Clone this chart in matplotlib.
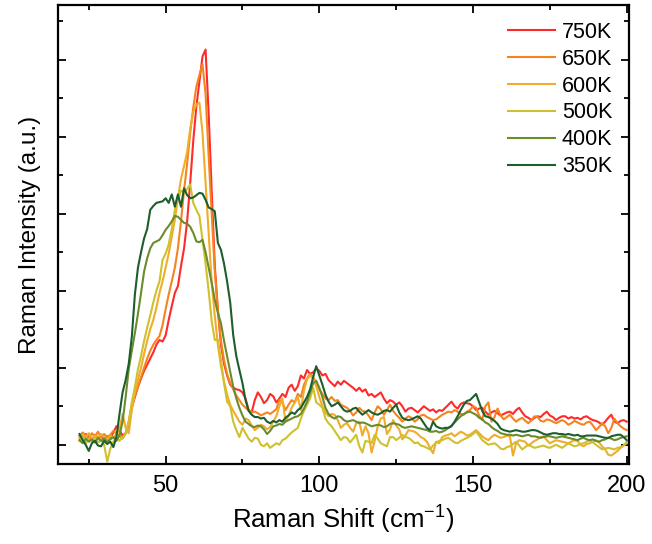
import numpy as np
import matplotlib
matplotlib.use("Agg")
import matplotlib.pyplot as plt
from matplotlib.ticker import MultipleLocator, NullFormatter

plt.rcParams['font.family'] = ['Liberation Sans', 'DejaVu Sans']
plt.rcParams['mathtext.default'] = 'regular'

# Raman shift grid (cm-1), one point per wavenumber
shift = np.arange(22, 201)

labels = ['750K', '650K', '600K', '500K', '400K', '350K']
colors = ['#ff2a2a', '#f5841f', '#f0ac2a', '#cfc12e', '#6a8c2c', '#1c5e2c']

i_750 = [
    0.12, 0.08, 0.14, 0.10, 0.06, 0.13, 0.09, 0.12,
    0.07, 0.11, 0.09, 0.16, 0.24, 0.19, 0.12, 0.15, 0.25, 0.48,
    0.62, 0.75, 0.86, 0.96, 1.04, 1.12, 1.20, 1.30, 1.36, 1.34,
    1.42, 1.62, 1.80, 1.97, 2.06, 2.32, 2.55, 2.90, 3.40, 3.95,
    4.39, 4.72, 5.04, 5.13, 4.30, 3.28, 2.32, 1.75, 1.30, 1.05,
    0.90, 0.78, 0.74, 0.72, 0.71, 0.68, 0.60, 0.45, 0.42, 0.58,
    0.68, 0.62, 0.54, 0.58, 0.66, 0.63, 0.55, 0.60, 0.66, 0.62,
    0.74, 0.78, 0.70, 0.76, 0.90, 0.86, 0.97, 0.92, 0.94, 0.99,
    0.96, 0.90, 0.92, 0.84, 0.80, 0.76, 0.82, 0.78, 0.83, 0.80,
    0.77, 0.74, 0.70, 0.74, 0.69, 0.72, 0.64, 0.66, 0.62, 0.65,
    0.68, 0.60, 0.54, 0.58, 0.56, 0.52, 0.55, 0.50, 0.43, 0.47,
    0.48, 0.45, 0.42, 0.46, 0.50, 0.47, 0.44, 0.46, 0.42, 0.45,
    0.44, 0.48, 0.52, 0.56, 0.50, 0.47, 0.53, 0.55, 0.54, 0.53,
    0.50, 0.45, 0.47, 0.48, 0.43, 0.39, 0.42, 0.44, 0.41, 0.38,
    0.40, 0.42, 0.43, 0.40, 0.45, 0.48, 0.42, 0.37, 0.35, 0.32,
    0.35, 0.37, 0.36, 0.40, 0.43, 0.38, 0.36, 0.32, 0.35, 0.37,
    0.37, 0.34, 0.36, 0.34, 0.35, 0.33, 0.36, 0.37, 0.34, 0.32,
    0.31, 0.29, 0.26, 0.30, 0.35, 0.39, 0.30, 0.28, 0.31, 0.32,
    0.30,
]

i_650 = [
    0.10, 0.16, 0.12, 0.08, 0.15, 0.11, 0.17, 0.09,
    0.14, 0.10, 0.13, 0.18, 0.15, 0.12, 0.08, 0.15, 0.30, 0.52,
    0.64, 0.76, 0.88, 1.00, 1.12, 1.22, 1.30, 1.36, 1.41, 1.55,
    1.76, 1.95, 2.12, 2.30, 2.55, 2.90, 3.30, 3.65, 4.05, 4.38,
    4.65, 4.80, 4.94, 4.55, 3.75, 3.00, 2.25, 1.75, 1.35, 1.10,
    0.92, 0.80, 0.72, 0.64, 0.58, 0.52, 0.48, 0.45, 0.42, 0.43,
    0.41, 0.38, 0.40, 0.42, 0.40, 0.43, 0.46, 0.58, 0.55, 0.45,
    0.52, 0.58, 0.55, 0.66, 0.62, 0.78, 0.86, 0.92, 0.88, 0.80,
    0.72, 0.66, 0.60, 0.58, 0.62, 0.57, 0.58, 0.52, 0.50, 0.48,
    0.44, 0.38, 0.42, 0.48, 0.44, 0.43, 0.38, 0.32, 0.42, 0.50,
    0.46, 0.39, 0.45, 0.52, 0.44, 0.39, 0.35, 0.30, 0.34, 0.37,
    0.35, 0.30, 0.33, 0.38, 0.39, 0.36, 0.34, 0.32, 0.33, 0.36,
    0.39, 0.41, 0.43, 0.42, 0.45, 0.43, 0.40, 0.39, 0.43, 0.45,
    0.50, 0.48, 0.38, 0.32, 0.50, 0.55, 0.30, 0.36, 0.47, 0.38,
    0.33, 0.36, 0.39, 0.34, 0.30, 0.33, 0.35, 0.31, 0.28, 0.32,
    0.37, 0.36, 0.31, 0.30, 0.33, 0.32, 0.30, 0.28, 0.30, 0.32,
    0.30, 0.26, 0.28, 0.31, 0.29, 0.27, 0.26, 0.29, 0.30, 0.25,
    0.19, 0.23, 0.28, 0.24, 0.15, 0.22, 0.34, 0.28, 0.24, 0.21,
    0.19,
]

i_600 = [
    0.08, 0.13, 0.10, 0.15, 0.07, 0.12, 0.09, 0.14,
    0.10, 0.06, 0.12, 0.09, 0.14, 0.20, 0.40, 0.22, 0.15, 0.45,
    0.68, 0.85, 1.00, 1.18, 1.35, 1.50, 1.62, 1.78, 1.97, 2.12,
    2.30, 2.48, 2.70, 2.92, 3.20, 3.45, 3.62, 3.80, 4.10, 4.32,
    4.42, 4.44, 4.05, 3.40, 2.75, 2.10, 1.67, 1.30, 1.02, 0.82,
    0.65, 0.52, 0.44, 0.37, 0.30, 0.26, 0.34, 0.32, 0.25, 0.19,
    0.22, 0.26, 0.24, 0.20, 0.23, 0.30, 0.37, 0.50, 0.60, 0.30,
    0.38, 0.48, 0.55, 0.62, 0.45, 0.70, 0.85, 0.90, 0.86, 0.76,
    0.62, 0.50, 0.42, 0.37, 0.40, 0.39, 0.32, 0.22, 0.26, 0.28,
    0.22, 0.17, 0.28, 0.30, 0.12, 0.24, 0.15, -0.10, 0.05, 0.24,
    0.34, 0.36, 0.14, 0.20, 0.32, 0.25, 0.20, 0.07, 0.12, 0.19,
    0.18, 0.17, 0.14, 0.10, 0.08, 0.04, -0.04, -0.11, 0.04, 0.02,
    0.10, 0.12, 0.13, 0.15, 0.11, 0.14, 0.17, 0.15, 0.12, 0.13,
    0.16, 0.19, 0.15, 0.11, 0.08, 0.06, 0.10, 0.13, 0.11, 0.09,
    0.10, 0.12, 0.11, -0.14, 0.02, 0.06, 0.05, 0.04, -0.01, 0.02,
    0.05, 0.07, 0.10, 0.11, 0.06, 0.02, 0.04, 0.06, 0.05, 0.04,
    0.03, 0.02, 0.04, 0.06, 0.05, 0.00, -0.02, 0.01, 0.02, 0.04,
    0.06, 0.03, -0.02, -0.06, -0.13, -0.14, -0.11, -0.08, -0.04, -0.01,
    0.02,
]

i_500 = [
    0.05, 0.10, 0.02, 0.08, 0.04, 0.09, 0.03, 0.06,
    0.00, -0.22, -0.05, 0.04, 0.10, 0.05, 0.10, 0.14, 0.30, 0.55,
    0.75, 0.98, 1.15, 1.35, 1.52, 1.68, 1.85, 2.00, 2.12, 2.40,
    2.48, 2.60, 2.80, 3.05, 3.18, 3.30, 3.28, 3.32, 3.38, 3.14,
    3.05, 2.97, 2.66, 2.35, 2.00, 1.60, 1.36, 1.36, 1.10, 0.80,
    0.56, 0.50, 0.30, 0.19, 0.10, 0.22, 0.15, 0.08, 0.04, 0.09,
    0.08, 0.00, -0.02, 0.02, -0.04, -0.01, 0.02, 0.00, 0.06, 0.08,
    0.12, 0.16, 0.19, 0.22, 0.34, 0.44, 0.52, 0.60, 0.74, 0.55,
    0.52, 0.48, 0.34, 0.28, 0.24, 0.18, 0.12, 0.06, 0.10, 0.09,
    0.03, 0.08, 0.13, -0.02, -0.10, 0.05, 0.04, 0.02, 0.13, 0.08,
    0.02, 0.00, -0.02, 0.10, 0.10, 0.06, 0.09, 0.13, 0.10, 0.09,
    0.06, 0.02, 0.03, -0.01, -0.02, -0.04, -0.06, -0.01, 0.03, 0.05,
    0.06, 0.08, 0.09, 0.06, 0.03, 0.02, 0.05, 0.07, 0.09, 0.11,
    0.14, 0.17, 0.12, 0.06, 0.03, 0.00, 0.01, 0.02, -0.01, -0.05,
    -0.06, -0.03, -0.02, 0.01, 0.04, -0.01, -0.06, -0.03, 0.00, -0.02,
    -0.04, -0.03, -0.02, -0.01, -0.03, -0.04, -0.02, 0.00, -0.02, -0.04,
    -0.01, 0.02, 0.00, -0.02, -0.01, 0.01, 0.02, 0.04, 0.06, 0.03,
    0.00, -0.03, -0.06, -0.05, -0.04, -0.05, -0.06, -0.04, -0.03, -0.01,
    0.04,
]

i_400 = [
    0.06, 0.02, 0.08, 0.04, 0.07, 0.03, 0.09, 0.05,
    0.08, 0.04, 0.07, 0.10, 0.05, 0.12, 0.30, 0.62, 0.98, 1.22,
    1.45, 1.70, 1.97, 2.25, 2.42, 2.55, 2.62, 2.64, 2.66, 2.72,
    2.79, 2.84, 2.90, 2.97, 2.96, 2.92, 2.88, 2.87, 2.83, 2.75,
    2.64, 2.63, 2.66, 2.50, 2.30, 2.10, 1.88, 1.71, 1.58, 1.35,
    1.15, 0.95, 0.75, 0.60, 0.48, 0.38, 0.30, 0.27, 0.24, 0.23,
    0.25, 0.24, 0.20, 0.14, 0.18, 0.24, 0.25, 0.27, 0.26, 0.30,
    0.32, 0.34, 0.36, 0.37, 0.40, 0.47, 0.56, 0.68, 0.80, 0.83,
    0.74, 0.62, 0.48, 0.40, 0.36, 0.34, 0.37, 0.36, 0.32, 0.30,
    0.31, 0.32, 0.30, 0.28, 0.29, 0.28, 0.26, 0.24, 0.25, 0.26,
    0.25, 0.23, 0.24, 0.27, 0.28, 0.27, 0.26, 0.23, 0.22, 0.23,
    0.24, 0.23, 0.22, 0.21, 0.20, 0.19, 0.17, 0.17, 0.18, 0.16,
    0.17, 0.19, 0.22, 0.25, 0.29, 0.33, 0.37, 0.40, 0.42, 0.43,
    0.41, 0.39, 0.35, 0.33, 0.29, 0.27, 0.23, 0.20, 0.18, 0.15,
    0.14, 0.13, 0.13, 0.12, 0.13, 0.12, 0.11, 0.12, 0.13, 0.11,
    0.11, 0.10, 0.09, 0.10, 0.11, 0.11, 0.10, 0.09, 0.10, 0.11,
    0.10, 0.09, 0.08, 0.07, 0.06, 0.08, 0.09, 0.07, 0.06, 0.07,
    0.05, 0.04, 0.06, 0.07, 0.09, 0.08, 0.06, 0.07, 0.09, 0.10,
    0.11,
]

i_350 = [
    0.14, 0.06, 0.00, -0.08, 0.02, 0.05, -0.01, -0.02,
    0.05, 0.01, 0.04, -0.03, 0.10, 0.40, 0.68, 0.84, 1.05, 1.40,
    1.95, 2.30, 2.50, 2.68, 2.80, 3.05, 3.10, 3.14, 3.15, 3.16,
    3.20, 3.14, 3.25, 3.09, 3.25, 3.09, 3.33, 3.24, 3.20, 3.21,
    3.24, 3.27, 3.26, 3.18, 3.08, 3.06, 3.03, 2.62, 2.53, 2.35,
    2.12, 1.85, 1.42, 1.15, 0.97, 0.80, 0.58, 0.44, 0.39, 0.36,
    0.36, 0.34, 0.35, 0.30, 0.28, 0.31, 0.29, 0.32, 0.30, 0.35,
    0.38, 0.42, 0.40, 0.45, 0.48, 0.55, 0.62, 0.72, 0.88, 1.02,
    0.90, 0.78, 0.65, 0.56, 0.50, 0.52, 0.55, 0.50, 0.45, 0.43,
    0.44, 0.47, 0.48, 0.43, 0.39, 0.42, 0.45, 0.42, 0.40, 0.39,
    0.41, 0.44, 0.45, 0.43, 0.48, 0.52, 0.42, 0.35, 0.33, 0.32,
    0.33, 0.35, 0.37, 0.34, 0.28, 0.22, 0.19, 0.30, 0.24, 0.22,
    0.21, 0.22, 0.22, 0.24, 0.30, 0.37, 0.45, 0.52, 0.57, 0.58,
    0.62, 0.66, 0.55, 0.44, 0.37, 0.36, 0.34, 0.31, 0.27, 0.21,
    0.19, 0.18, 0.17, 0.18, 0.19, 0.18, 0.17, 0.17, 0.18, 0.19,
    0.19, 0.18, 0.16, 0.14, 0.13, 0.14, 0.15, 0.15, 0.14, 0.14,
    0.13, 0.14, 0.13, 0.12, 0.13, 0.11, 0.11, 0.12, 0.12, 0.12,
    0.12, 0.11, 0.10, 0.09, 0.09, 0.11, 0.12, 0.13, 0.13, 0.10,
    0.06,
]

series = [i_750, i_650, i_600, i_500, i_400, i_350]

fig = plt.figure(figsize=(6.52, 5.44), dpi=100)
ax = fig.add_axes([0.089, 0.147, 0.876, 0.844])

for ys, c, lab in zip(series, colors, labels):
    ax.plot(shift, ys, color=c, lw=1.5, label=lab)

ax.set_xlim(15, 200.8)
ax.set_ylim(-0.25, 5.71)

ax.xaxis.set_major_locator(MultipleLocator(50))
ax.xaxis.set_minor_locator(MultipleLocator(25))
ax.yaxis.set_major_locator(MultipleLocator(1))
ax.yaxis.set_minor_locator(MultipleLocator(0.5))
ax.yaxis.set_major_formatter(NullFormatter())

ax.tick_params(which='both', direction='in', top=True, right=True, width=1.3)
ax.tick_params(which='major', length=6)
ax.tick_params(which='minor', length=3.5)
ax.tick_params(axis='x', labelsize=17, pad=8)
for sp in ax.spines.values():
    sp.set_linewidth(1.6)

ax.set_xlabel('Raman Shift (cm$^{-1}$)', fontsize=18.5, labelpad=5)
ax.set_ylabel('Raman Intensity (a.u.)', fontsize=17.5, labelpad=9)

ax.legend(loc='upper left', bbox_to_anchor=(508 / 652, 1 - 22 / 544),
          bbox_transform=fig.transFigure, frameon=False, fontsize=15.5,
          handlelength=2.2, handletextpad=0.3, labelspacing=0.27,
          borderpad=0, borderaxespad=0)

fig.savefig('out.png', dpi=100)
